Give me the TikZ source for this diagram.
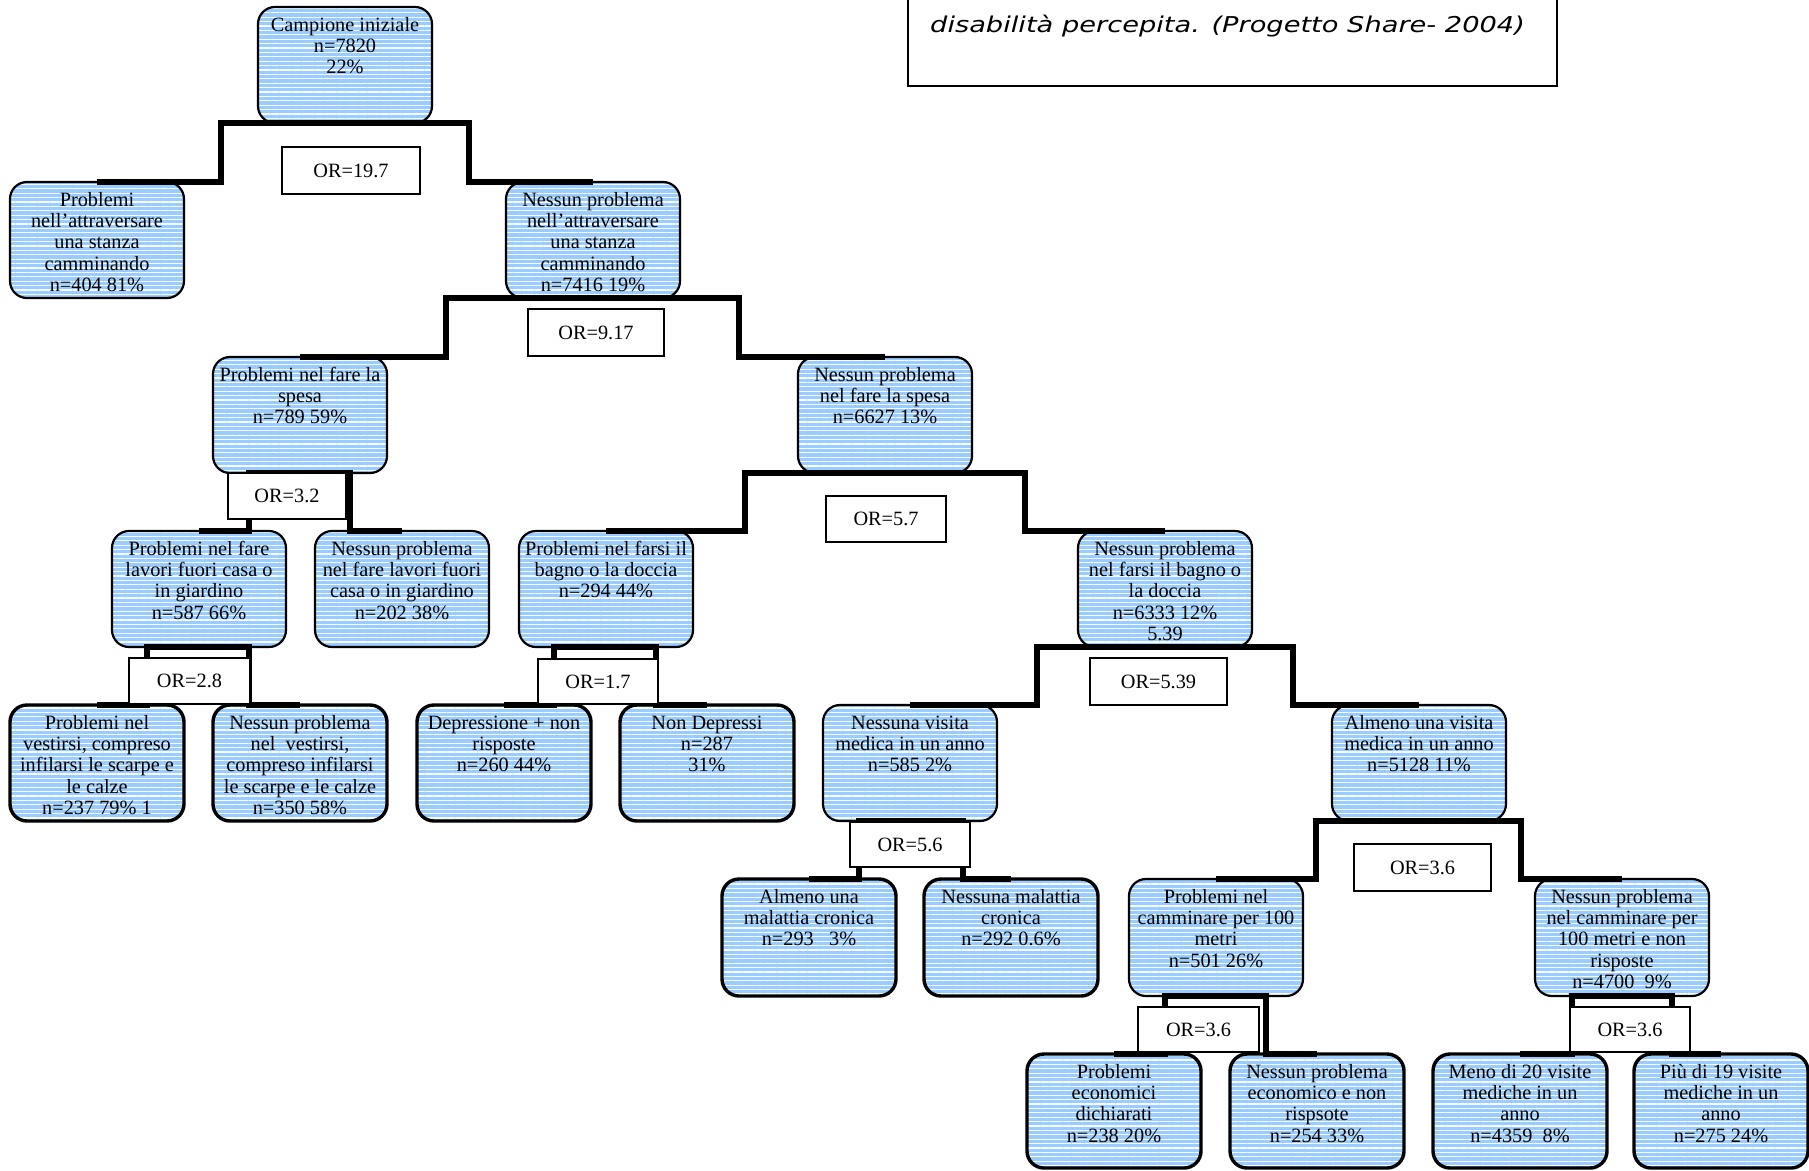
\documentclass[tikz,border=0pt]{standalone}
\usepackage{fontspec}
\setmainfont{Liberation Serif}
\newfontfamily\titlefont{DejaVu Sans}[FakeStretch=1.25]
\usetikzlibrary{patterns.meta}
\definecolor{boxblue}{RGB}{153,204,255}

\tikzset{
  tbox/.style={rectangle, rounded corners=17pt, draw=black, line width=2.2pt,
    minimum width=174pt, inner sep=0pt, outer sep=0pt,
    preaction={fill=boxblue},
    pattern={Lines[angle=0,distance=4.4pt,line width=1.2pt]}, pattern color=white},
  leaf/.style={line width=3.4pt},
  tlabel/.style={font=\fontsize{20.3}{21.3}\selectfont, align=center,
    inner sep=0pt, anchor=north},
  conn/.style={line width=5.2pt, line join=miter},
  orbox/.style={rectangle, draw=black, line width=2pt, fill=white,
    inner sep=0pt, font=\fontsize{20.3}{21.3}\selectfont},
}

% [extra style]{name}{centre x}{top y}{height}{text}
\newcommand\treebox[6][]{%
  \node[tbox,#1,minimum height=#5pt] (#2) at ({#3},{#4+#5/2}) {};
  \node[tlabel] (#2-t) at ({#3},{#4+9.1}) {\strut#6};
}

\begin{document}
\begin{tikzpicture}[x=1pt,y=-1pt]
\useasboundingbox (0,0) rectangle (1809,1170);

% caption box, partly above the page
\node[draw=black, line width=2pt, minimum width=649pt, minimum height=100pt,
  anchor=north west, inner sep=0pt, outer sep=0pt] (title) at (908,-14) {};
\node[anchor=base west, inner sep=0pt,
  font=\titlefont\itshape\fontsize{21.8}{26}\selectfont] (titletext) at (930,32)
  {disabilità percepita. (Progetto Share- 2004)};

% tree nodes
\treebox{root}{345}{7}{116}{Campione iniziale\\ n=7820\\ 22\%}
\treebox{A1}{97}{182}{116}{Problemi\\ nell'attraversare\\ una stanza\\ camminando\\ n=404 81\%}
\treebox{A2}{593}{182}{116}{Nessun problema\\ nell'attraversare\\ una stanza\\ camminando\\ n=7416 19\%}
\treebox{B1}{300}{357}{116}{Problemi nel fare la\\ spesa\\ n=789 59\%}
\treebox{B2}{885}{357}{116}{Nessun problema\\ nel fare la spesa\\ n=6627 13\%}
\treebox{C1}{199}{531}{116}{Problemi nel fare\\ lavori fuori casa o\\ in giardino\\ n=587 66\%}
\treebox{C2}{402}{531}{116}{Nessun problema\\ nel fare lavori fuori\\ casa o in giardino\\ n=202 38\%}
\treebox{C3}{606}{531}{116}{Problemi nel farsi il\\ bagno o la doccia\\ n=294 44\%}
\treebox{C4}{1165}{531}{116}{Nessun problema\\ nel farsi il bagno o\\ la doccia\\ n=6333 12\%\\ 5.39}
\treebox[leaf]{D1}{97}{705}{116}{Problemi nel\\ vestirsi, compreso\\ infilarsi le scarpe e\\ le calze\\ n=237 79\% 1}
\treebox[leaf]{D2}{300}{705}{116}{Nessun problema\\ nel\ \ vestirsi,\\ compreso infilarsi\\ le scarpe e le calze\\ n=350 58\%}
\treebox[leaf]{D3}{504}{705}{116}{Depressione + non\\ risposte\\ n=260 44\%}
\treebox[leaf]{D4}{707}{705}{116}{Non Depressi\\ n=287\\ 31\%}
\treebox{D5}{910}{705}{116}{Nessuna visita\\ medica in un anno\\ n=585 2\%}
\treebox{D6}{1419}{705}{116}{Almeno una visita\\ medica in un anno\\ n=5128 11\%}
\treebox[leaf]{E1}{809}{879}{117}{Almeno una\\ malattia cronica\\ n=293\ \ \ 3\%}
\treebox[leaf]{E2}{1011}{879}{117}{Nessuna malattia\\ cronica\\ n=292 0.6\%}
\treebox{E3}{1216}{879}{117}{Problemi nel\\ camminare per 100\\ metri\\ n=501 26\%}
\treebox{E4}{1622}{879}{117}{Nessun problema\\ nel camminare per\\ 100 metri e non\\ risposte\\ n=4700\ \ 9\%}
\treebox[leaf]{F1}{1114}{1054}{114}{Problemi\\ economici\\ dichiarati\\ n=238 20\%}
\treebox[leaf]{F2}{1317}{1054}{114}{Nessun problema\\ economico e non\\ rispsote\\ n=254 33\%}
\treebox[leaf]{F3}{1520}{1054}{114}{Meno di 20 visite\\ mediche in un\\ anno\\ n=4359\ \ 8\%}
\treebox[leaf]{F4}{1721}{1054}{114}{Più di 19 visite\\ mediche in un\\ anno\\ n=275 24\%}

% split connectors
\draw[conn] (root.south) -- ++(-124,0) |- (A1.north);
\draw[conn] (root.south) -- ++(124,0) |- (A2.north);
\draw[conn] (A2.south) -- ++(-147,0) |- (B1.north);
\draw[conn] (A2.south) -- ++(146,0) |- (B2.north);
\draw[conn] (B1.south) -- ++(-51,0) |- (C1.north);
\draw[conn] (B1.south) -- ++(50,0) |- (C2.north);
\draw[conn] (B2.south) -- ++(-140,0) |- (C3.north);
\draw[conn] (B2.south) -- ++(140,0) |- (C4.north);
\draw[conn] (C1.south) -- ++(-52,0) |- (D1.north);
\draw[conn] (C1.south) -- ++(50,0) |- (D2.north);
\draw[conn] (C3.south) -- ++(-52,0) |- (D3.north);
\draw[conn] (C3.south) -- ++(50,0) |- (D4.north);
\draw[conn] (C4.south) -- ++(-128,0) |- (D5.north);
\draw[conn] (C4.south) -- ++(128,0) |- (D6.north);
\draw[conn] (D5.south) -- ++(-51,0) |- (E1.north);
\draw[conn] (D5.south) -- ++(53,0) |- (E2.north);
\draw[conn] (D6.south) -- ++(-103,0) |- (E3.north);
\draw[conn] (D6.south) -- ++(102,0) |- (E4.north);
\draw[conn] (E3.south) -- ++(-51,0) |- (F1.north);
\draw[conn] (E3.south) -- ++(50,0) |- (F2.north);
\draw[conn] (E4.south) -- ++(-50,0) |- (F3.north);
\draw[conn] (E4.south) -- ++(50,0) |- (F4.north);

% odds-ratio labels
\node[orbox, minimum width=138pt, minimum height=47pt] (or1) at (351,170.5) {OR=19.7};
\node[orbox, minimum width=136pt, minimum height=47pt] (or2) at (596,332.5) {OR=9.17};
\node[orbox, minimum width=118pt, minimum height=46pt] (or3) at (287,496) {OR=3.2};
\node[orbox, minimum width=120pt, minimum height=46pt] (or4) at (886,519) {OR=5.7};
\node[orbox, minimum width=121pt, minimum height=46pt] (or5) at (189.5,681) {OR=2.8};
\node[orbox, minimum width=120pt, minimum height=45pt] (or6) at (598,681.5) {OR=1.7};
\node[orbox, minimum width=137pt, minimum height=47pt] (or7) at (1158.5,681.5) {OR=5.39};
\node[orbox, minimum width=120pt, minimum height=45pt] (or8) at (910,844.5) {OR=5.6};
\node[orbox, minimum width=137pt, minimum height=47pt] (or9) at (1422.5,867.5) {OR=3.6};
\node[orbox, minimum width=121pt, minimum height=45pt] (or10) at (1198.5,1029.5) {OR=3.6};
\node[orbox, minimum width=120pt, minimum height=45pt] (or11) at (1630,1029.5) {OR=3.6};
\end{tikzpicture}
\end{document}
